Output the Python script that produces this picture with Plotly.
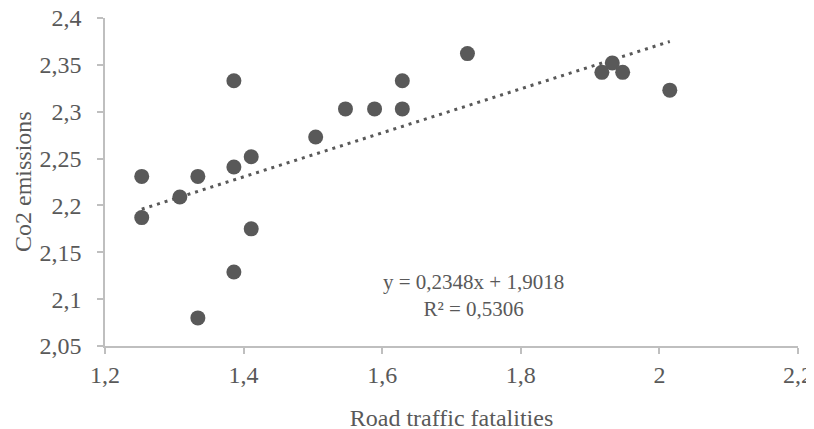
import plotly.graph_objects as go

# Data
road_fatalities = [1.253, 1.253, 1.308, 1.334, 1.334, 1.386, 1.386, 1.411, 1.411, 1.386,
                   1.504, 1.547, 1.589, 1.629, 1.629, 1.723, 1.917, 1.932, 1.947, 2.015]
co2_emissions = [2.231, 2.187, 2.209, 2.231, 2.080, 2.241, 2.129, 2.252, 2.175, 2.333,
                 2.273, 2.303, 2.303, 2.303, 2.333, 2.362, 2.342, 2.352, 2.342, 2.323]

trend_slope = 0.2348
trend_intercept = 1.9018
r_squared = 0.5306

x_tickvals = [1.2, 1.4, 1.6, 1.8, 2.0, 2.2]
x_ticktext = ["1,2", "1,4", "1,6", "1,8", "2", "2,2"]
y_tickvals = [2.05, 2.1, 2.15, 2.2, 2.25, 2.3, 2.35, 2.4]
y_ticktext = ["2,05", "2,1", "2,15", "2,2", "2,25", "2,3", "2,35", "2,4"]

GREY = "#595959"
AXIS = "#BFBFBF"
FONT = "Liberation Serif, Times New Roman, serif"
TXT = 24

x_min = min(road_fatalities)
x_max = max(road_fatalities)
trend_x = [x_min, x_max]
trend_y = [trend_slope * v + trend_intercept for v in trend_x]

fig = go.Figure()
fig.add_trace(go.Scatter(
    x=trend_x, y=trend_y, mode="lines",
    line=dict(color=GREY, width=3, dash="3px,5px"),
    hoverinfo="skip", showlegend=False,
))
fig.add_trace(go.Scatter(
    x=road_fatalities, y=co2_emissions, mode="markers",
    marker=dict(color=GREY, size=15, line=dict(width=0)),
    showlegend=False,
))

eq_text = ("y = " + f"{trend_slope:.4f}".replace(".", ",") + "x + "
           + f"{trend_intercept:.4f}".replace(".", ",")
           + "<br>R² = " + f"{r_squared:.4f}".replace(".", ","))
fig.add_annotation(
    x=1.732, y=2.104, xref="x", yref="y", text=eq_text, showarrow=False,
    xanchor="center", yanchor="middle", align="center",
    font=dict(family=FONT, size=21, color=GREY),
)

# y-axis title placed as a rotated annotation left of the tick labels
fig.add_annotation(
    x=0, y=0.5, xref="paper", yref="paper", text="Co2 emissions",
    showarrow=False, textangle=-90, xanchor="center", yanchor="middle",
    xshift=-82, font=dict(family=FONT, size=TXT, color=GREY),
)

fig.update_layout(
    width=814, height=429,
    margin=dict(l=97, r=24, t=10, b=91),
    paper_bgcolor="white", plot_bgcolor="white",
    separators=", ",
    font=dict(family=FONT, size=TXT, color=GREY),
    xaxis=dict(
        range=[1.2, 2.2], tickvals=x_tickvals, ticktext=x_ticktext,
        showgrid=False, zeroline=False, automargin=False,
        showline=True, linecolor=AXIS, linewidth=1.5,
        ticks="outside", ticklen=6, tickwidth=1.5, tickcolor=AXIS,
        ticklabelstandoff=0, ticklabeloverflow="allow",
        tickfont=dict(family=FONT, size=TXT, color=GREY),
        title=dict(text="Road traffic fatalities", standoff=23,
                   font=dict(family=FONT, size=TXT, color=GREY)),
    ),
    yaxis=dict(
        range=[2.05, 2.4], tickvals=y_tickvals, ticktext=y_ticktext,
        showgrid=False, zeroline=False, automargin=False,
        showline=True, linecolor=AXIS, linewidth=1.5,
        ticks="outside", ticklen=6, tickwidth=1.5, tickcolor=AXIS,
        ticklabelstandoff=11, ticklabeloverflow="allow",
        tickfont=dict(family=FONT, size=TXT, color=GREY),
    ),
)

fig.write_html("out.html")
